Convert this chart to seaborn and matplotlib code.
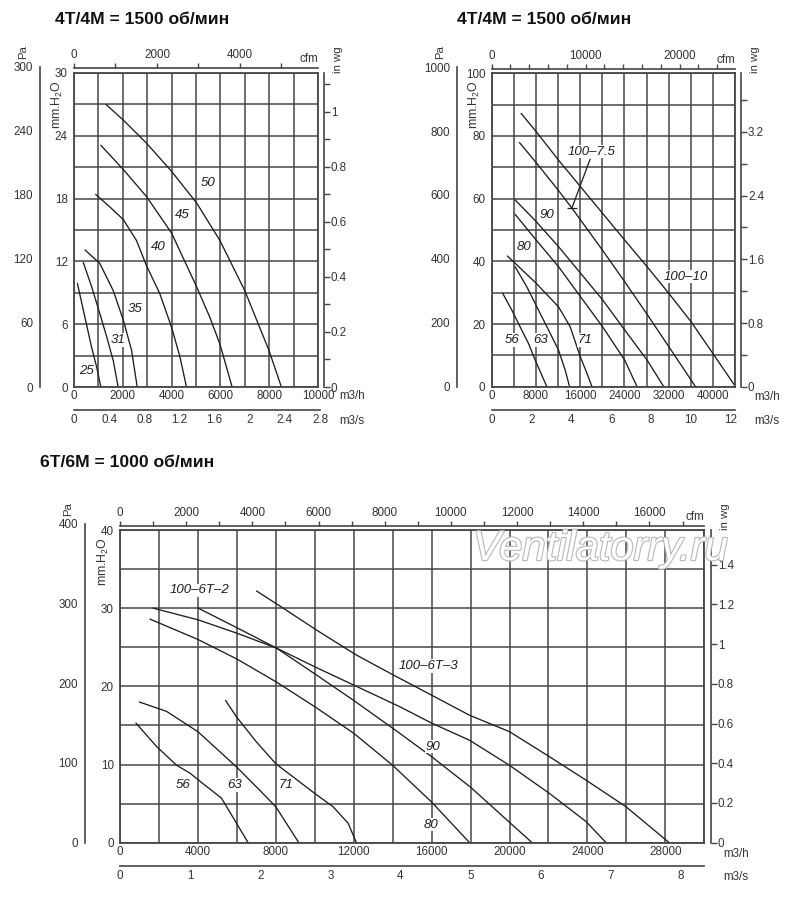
import numpy as np
import pandas as pd
import matplotlib
matplotlib.use("Agg")
import matplotlib.pyplot as plt
import matplotlib.patheffects as pe
from matplotlib.ticker import MultipleLocator
import seaborn as sns

# ---------------- values (flow m3/h, pressure mm H2O) ----------------
# panel A : 4T/4M = 1500 rpm
a_25_q = [140, 310, 520, 720, 930, 1100]
a_25_h = [9.9, 8.1, 5.9, 3.8, 1.9, 0]
a_31_q = [380, 720, 1060, 1340, 1610, 1810]
a_31_h = [11.9, 9.6, 7.0, 4.8, 2.5, 0]
a_35_q = [450, 1060, 1610, 2020, 2360, 2590]
a_35_h = [13.1, 11.8, 9.2, 6.4, 3.5, 0]
a_40_q = [890, 1470, 2020, 2560, 2970, 3520, 4000, 4340, 4610]
a_40_h = [18.4, 17.2, 16.0, 14.0, 11.6, 8.9, 5.7, 2.9, 0]
a_45_q = [1100, 2050, 2970, 4000, 5020, 5560, 5980, 6480]
a_45_h = [23.1, 20.7, 18.2, 14.7, 9.6, 6.7, 4.1, 0]
a_50_q = [1310, 2020, 2970, 4000, 5020, 5980, 7000, 7990, 8500]
a_50_h = [27.0, 25.5, 23.3, 20.6, 17.6, 14.0, 9.2, 3.5, 0]
a_names = ['25', '31', '35', '40', '45', '50']
a_label_q = [520, 1810, 2500, 3450, 4450, 5500]
a_label_h = [1.5, 4.5, 7.5, 13.4, 16.4, 19.5]

# panel B : 4T/4M = 1500 rpm, bigger fans
b_56_q = [1990, 3620, 5140, 6650, 7860, 9060, 9970]
b_56_h = [29.8, 24.5, 19.1, 13.8, 8.5, 3.7, 0]
b_63_q = [4230, 6340, 8160, 10270, 12080, 13290, 14080]
b_63_h = [38.3, 31.9, 25.5, 18.1, 11.7, 5.3, 0]
b_71_q = [2840, 4230, 8040, 12080, 14200, 16010, 17220, 18130]
b_71_h = [41.7, 39.4, 33.0, 25.5, 19.1, 9.6, 4.3, 0]
b_80_q = [4230, 8040, 12080, 16070, 20060, 24050, 26280]
b_80_h = [55.0, 46.8, 38.3, 28.7, 19.1, 8.5, 0]
b_90_q = [4230, 8040, 12080, 16070, 20060, 24050, 28100, 31120]
b_90_h = [59.6, 52.7, 44.7, 36.2, 27.7, 18.1, 8.5, 0]
b_1075_q = [5020, 8040, 12080, 14500, 16070, 20060, 24050, 28100, 32020, 36860]
b_1075_h = [77.9, 71.5, 62.6, 57.0, 53.2, 43.5, 33.5, 23.1, 12.8, 0]
b_10010_q = [5320, 8040, 12080, 16070, 20060, 24050, 28100, 32020, 36070, 40000, 44100]
b_10010_h = [87.2, 81.4, 72.3, 63.8, 55.3, 46.8, 38.3, 29.8, 20.7, 10.6, 0]
b_names = ['56', '63', '71', '80', '90', '100–7.5', '100–10']
b_label_q = [3620, 8760, 16920, 5920, 9970, 18130, 35040]
b_label_h = [14.9, 14.9, 14.9, 44.7, 54.8, 75.0, 35.1]
b_lead_q = [17800, 14500]
b_lead_h = [72.6, 57.0]

# panel C : 6T/6M = 1000 rpm
c_56_q = [820, 1880, 2910, 3590, 4440, 5210, 5980, 6580]
c_56_h = [15.3, 12.3, 9.9, 8.9, 7.2, 5.7, 2.5, 0]
c_63_q = [990, 2390, 4000, 5980, 7180, 8000, 9180]
c_63_h = [18.0, 16.8, 14.2, 9.7, 6.7, 4.6, 0]
c_71_q = [5420, 5980, 7000, 8000, 10000, 10940, 11710, 12140]
c_71_h = [18.2, 16.1, 12.9, 10.1, 6.3, 4.6, 2.5, 0]
c_80_q = [1540, 4000, 6000, 8000, 10000, 12000, 14000, 16000, 17950]
c_80_h = [28.6, 26.0, 23.5, 20.6, 17.4, 14.0, 9.9, 5.2, 0]
c_90_q = [1710, 4020, 6000, 8030, 10000, 12000, 14360, 16000, 18000, 20000, 21160]
c_90_h = [30.0, 28.5, 26.8, 24.9, 21.6, 18.2, 14.0, 11.0, 7.1, 2.6, 0]
c_6t2_q = [4020, 6000, 8030, 10000, 12140, 14360, 16000, 17950, 20000, 22050, 23930, 24960]
c_6t2_h = [30.0, 27.5, 24.9, 22.5, 20.0, 17.4, 15.3, 13.1, 9.9, 6.3, 2.7, 0]
c_6t3_q = [7010, 8380, 10090, 12140, 13850, 15900, 17950, 20000, 22050, 23930, 25980, 28200]
c_6t3_h = [32.2, 30.0, 27.2, 24.0, 21.7, 19.0, 16.3, 14.2, 11.0, 8.0, 4.6, 0]
c_names = ['56', '63', '71', '80', '90', '100–6T–2', '100–6T–3']
c_label_q = [3250, 5900, 8500, 15970, 16070, 4100, 15850]
c_label_h = [7.4, 7.4, 7.4, 2.3, 12.3, 32.3, 22.6]

titles = ['4T/4M = 1500 об/мин', '4T/4M = 1500 об/мин', '6T/6M = 1000 об/мин']

# unit conversions
PA_PER_MM = 9.80665
CFM_PER_M3H = 1 / 1.699
M3S_PER_M3H = 1 / 3600

# ---------------- style ----------------
sns.set_style("white")
plt.rcParams['font.family'] = ['Liberation Sans', 'DejaVu Sans']
plt.rcParams['mathtext.default'] = 'regular'

W, H = 800, 897
INK = '#1e1e1e'
GRID = '#464646'
TXT = '#333333'
TICK_FS = 8.4

fig = plt.figure(figsize=(W / 100, H / 100), dpi=100)


def fbox(x0, y0, x1, y1):
    # pixel box (top-left origin) -> figure fraction
    return [x0 / W, 1 - y1 / H, (x1 - x0) / W, (y1 - y0) / H]


def ftext(x, y, s, **kw):
    return fig.text(x / W, 1 - y / H, s, **kw)


def tick_labels(ticks, step):
    return [f'{t:g}' if np.isclose(t / step, round(t / step)) else '' for t in ticks]


def bare(ax, keep):
    ax.patch.set_visible(False)
    for side, sp in ax.spines.items():
        sp.set_visible(side == keep)
        sp.set_color(GRID)
        sp.set_linewidth(1.2)


def draw_panel(p, curves, names, lab_q, lab_h):
    x0, y0, x1, y1 = p['box']
    ax = fig.add_axes(fbox(x0, y0, x1, y1))

    df = pd.concat([pd.DataFrame({'fan': n, 'q': q, 'h': h}) for n, q, h in curves])
    sns.lineplot(data=df, x='q', y='h', units='fan', estimator=None,
                 color=INK, lw=0.95, ax=ax, legend=False)
    ax.set_xlabel('')
    ax.set_ylabel('')
    ax.set_xlim(0, p['qmax'])
    ax.set_ylim(0, p['hmax'])

    xt = np.arange(0, p['qmax'] + 1, p['qgrid'])
    ax.set_xticks(xt, tick_labels(xt, p['qlab']))
    yt = np.arange(0, p['hmax'] + 1e-9, p['hgrid'])
    ax.set_yticks(yt, tick_labels(yt, p['hlab']))
    ax.grid(True, color=GRID, lw=1.1)
    ax.set_axisbelow(True)
    for sp in ax.spines.values():
        sp.set_visible(True)
        sp.set_color(GRID)
        sp.set_linewidth(1.3)
    ax.tick_params(axis='x', length=0, pad=2.5, labelsize=TICK_FS, labelcolor=TXT)
    ax.tick_params(axis='y', length=3, width=1, color=GRID, pad=1.5,
                   labelsize=TICK_FS, labelcolor=TXT)

    for n, q, h in zip(names, lab_q, lab_h):
        ax.text(q, h, n, style='italic', fontsize=9.5, color=INK, ha='center', va='center',
                bbox=dict(fc='white', ec='none', pad=0.5), zorder=4)

    px_per_mm = (y1 - y0) / p['hmax']

    # Pa axis (far left)
    pa_top = y1 - p['pa_max'] / PA_PER_MM * px_per_mm
    pa = fig.add_axes(fbox(p['pa_x'], pa_top, p['pa_x'] + 1, y1))
    bare(pa, 'left')
    pa.set_ylim(0, p['pa_max'])
    pa.set_xticks([])
    pa.set_yticks(np.arange(0, p['pa_max'] + 1, p['pa_lab']))
    pa.yaxis.set_minor_locator(MultipleLocator(p['pa_minor']))
    pa.tick_params(which='both', axis='y', length=4, width=1, color=GRID, pad=1,
                   labelsize=TICK_FS, labelcolor=TXT)
    ftext(p['pa_x'] - 17, pa_top - 15, 'Pa', rotation=90, fontsize=8.2, color=TXT,
          ha='center', va='center')
    ftext(x0 - 17, y0 + 7, 'mm.H$_2$O', rotation=90, fontsize=8.8, color=TXT,
          ha='center', va='top')

    # in wg axis (right)
    wg = fig.add_axes(fbox(p['wg_x'], y0, p['wg_x'] + 1, y1))
    bare(wg, 'right')
    wg.set_ylim(0, p['wg_top'])
    wg.set_xticks([])
    wg.yaxis.tick_right()
    wg.set_yticks(np.arange(0, p['wg_top'] + 1e-9, p['wg_lab']))
    wg.set_yticklabels([f'{t:g}' for t in wg.get_yticks()])
    if p['wg_minor']:
        wg.yaxis.set_minor_locator(MultipleLocator(p['wg_minor']))
    wg.tick_params(which='both', axis='y', length=4, width=1, color=GRID, pad=1,
                   labelsize=TICK_FS, labelcolor=TXT)
    ftext(p['wg_x'] + 15, y0, 'in wg', rotation=90, fontsize=8.2, color=TXT,
          ha='center', va='bottom')

    # cfm axis (top)
    cfm_max = p['qmax'] * CFM_PER_M3H
    cf = fig.add_axes(fbox(x0, p['cfm_y'], x1, p['cfm_y']))
    bare(cf, 'top')
    cf.set_xlim(0, cfm_max)
    cf.set_yticks([])
    cf.xaxis.tick_top()
    ct = np.arange(0, cfm_max, p['cfm_step'])
    cf.set_xticks(ct, tick_labels(ct, p['cfm_lab']))
    cf.tick_params(axis='x', length=3.5, width=1, color=GRID, pad=1.5,
                   labelsize=TICK_FS, labelcolor=TXT)
    ftext(x1, p['cfm_y'] - 3, 'cfm', fontsize=TICK_FS, color=TXT, ha='right', va='bottom')

    # m3/s axis (bottom)
    s_full = p['qmax'] * M3S_PER_M3H
    s_max = max(s_full, p['s_end'])
    sx1 = x0 + (x1 - x0) * s_max / s_full
    sa = fig.add_axes(fbox(x0, p['s_y'], sx1, p['s_y']))
    bare(sa, 'bottom')
    sa.set_xlim(0, s_max)
    sa.set_yticks([])
    st = np.arange(0, s_max + 1e-9, p['s_step'])
    sa.set_xticks(st, tick_labels(st, p['s_lab']))
    sa.tick_params(axis='x', direction='in', length=4, width=1, color=GRID, pad=3,
                   labelsize=TICK_FS, labelcolor=TXT)

    ftext(x1 + p['unit_dx'], y1 + p['qlab_dy'], 'm3/h', fontsize=TICK_FS, color=TXT,
          ha='left', va='center')
    ftext(x1 + p['unit_dx'], p['s_y'] + 11, 'm3/s', fontsize=TICK_FS, color=TXT,
          ha='left', va='center')
    return ax


panel_a = dict(box=(74, 73, 318, 387), qmax=10000, hmax=30, qgrid=1000, qlab=2000,
               hgrid=3, hlab=6, pa_x=40, pa_max=300, pa_lab=60, pa_minor=30,
               wg_x=323, wg_top=1.14, wg_lab=0.2, wg_minor=0.1,
               cfm_y=68, cfm_step=1000, cfm_lab=2000,
               s_y=410, s_end=2.8, s_step=0.2, s_lab=0.4, qlab_dy=9, unit_dx=21)
panel_b = dict(box=(491.7, 73.3, 735, 386.7), qmax=44000, hmax=100, qgrid=4000, qlab=8000,
               hgrid=10, hlab=20, pa_x=456.7, pa_max=1000, pa_lab=200, pa_minor=100,
               wg_x=740, wg_top=100 / 25.4, wg_lab=0.8, wg_minor=0.4,
               cfm_y=69.3, cfm_step=2000, cfm_lab=10000,
               s_y=410, s_end=12, s_step=1, s_lab=2, qlab_dy=10, unit_dx=19)
panel_c = dict(box=(120, 530, 704.3, 842.7), qmax=30000, hmax=40, qgrid=2000, qlab=4000,
               hgrid=5, hlab=10, pa_x=85, pa_max=400, pa_lab=100, pa_minor=50,
               wg_x=710, wg_top=40 / 25.4, wg_lab=0.2, wg_minor=None,
               cfm_y=526, cfm_step=1000, cfm_lab=2000,
               s_y=866, s_end=8, s_step=0.5, s_lab=1, qlab_dy=11, unit_dx=19)

ax_a = draw_panel(panel_a,
                  [('25', a_25_q, a_25_h), ('31', a_31_q, a_31_h), ('35', a_35_q, a_35_h),
                   ('40', a_40_q, a_40_h), ('45', a_45_q, a_45_h), ('50', a_50_q, a_50_h)],
                  a_names, a_label_q, a_label_h)

ax_b = draw_panel(panel_b,
                  [('56', b_56_q, b_56_h), ('63', b_63_q, b_63_h), ('71', b_71_q, b_71_h),
                   ('80', b_80_q, b_80_h), ('90', b_90_q, b_90_h),
                   ('100-7.5', b_1075_q, b_1075_h), ('100-10', b_10010_q, b_10010_h)],
                  b_names, b_label_q, b_label_h)
# leader line from the 100-7.5 label to its curve, with the little end dash
ax_b.plot(b_lead_q, b_lead_h, color=INK, lw=0.9, zorder=3)
ax_b.plot(b_lead_q[1:], b_lead_h[1:], marker='_', ms=7, mew=0.9, color=INK, zorder=3)

ax_c = draw_panel(panel_c,
                  [('56', c_56_q, c_56_h), ('63', c_63_q, c_63_h), ('71', c_71_q, c_71_h),
                   ('80', c_80_q, c_80_h), ('90', c_90_q, c_90_h),
                   ('6T-2', c_6t2_q, c_6t2_h), ('6T-3', c_6t3_q, c_6t3_h)],
                  c_names, c_label_q, c_label_h)

# titles
ftext(55, 19, titles[0], fontsize=12.6, fontweight='bold', color='#111111', va='center')
ftext(457, 19, titles[1], fontsize=12.6, fontweight='bold', color='#111111', va='center')
ftext(40, 462, titles[2], fontsize=12.6, fontweight='bold', color='#111111', va='center')

# watermark
ftext(473, 549, 'Ventilatorry.ru', fontsize=30, style='italic', color='white', ha='left',
      va='center', zorder=10,
      path_effects=[pe.withStroke(linewidth=1.6, foreground='#b8b8b8')])

fig.savefig('out.png', dpi=100)
